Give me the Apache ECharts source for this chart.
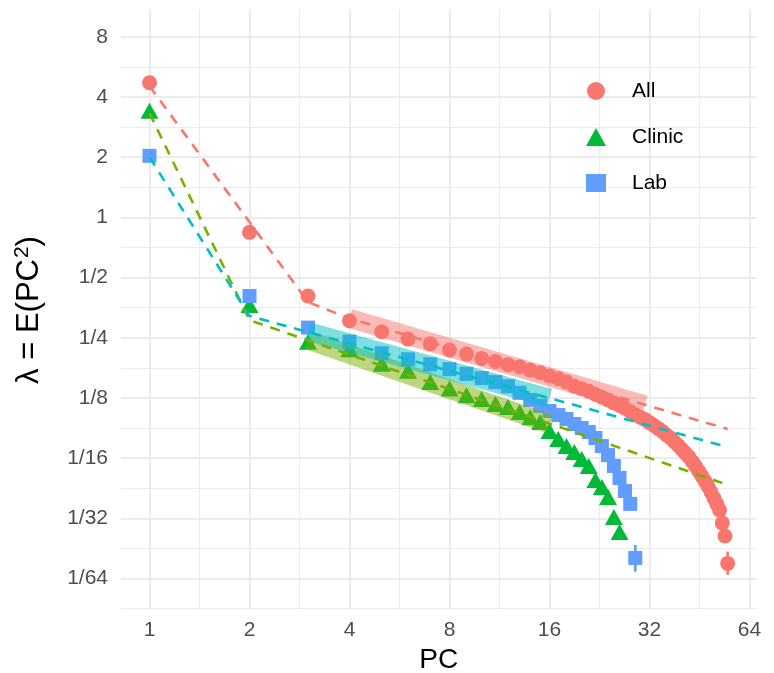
<!DOCTYPE html>
<html><head><meta charset="utf-8">
<script src="https://cdn.jsdelivr.net/npm/echarts@6/dist/echarts.min.js"></script>
<style>html,body{margin:0;padding:0;background:#fff}#c{width:774px;height:673px}</style>
</head><body><div id="c"></div>
<script>
// ---- data ----
const pcAll = [1,2,3,4,5,6,7,8,9,10,11,12,13,14,15,16,17,18,19,20,21,22,23,24,25,26,27,28,29,30,31,32,33,34,35,36,37,38,39,40,41,42,43,44,45,46,47,48,49,50,51,52,53,54,55];
const allVals = [4.71,0.841,0.404,0.304,0.268,0.246,0.233,0.217,0.207,0.197,0.190,0.183,0.179,0.172,0.167,0.161,0.156,0.150,0.143,0.139,0.135,0.130,0.126,0.122,0.118,0.1145,0.111,0.107,0.103,0.100,0.0975,0.0941,0.0910,0.0879,0.0849,0.0815,0.0788,0.0755,0.0725,0.0693,0.0663,0.0635,0.0601,0.0571,0.0539,0.0509,0.0480,0.0451,0.0423,0.0395,0.0369,0.0344,0.0296,0.0255,0.0186];
const pcClinic = [1,2,3,4,5,6,7,8,9,10,11,12,13,14,15,16,17,18,19,20,21,22,23,24,25,26];
const clinicVals = [3.41,0.364,0.239,0.219,0.185,0.171,0.150,0.1395,0.129,0.1235,0.1165,0.1125,0.1064,0.100,0.0947,0.0854,0.0778,0.0718,0.0670,0.0619,0.0571,0.0486,0.0448,0.0400,0.0317,0.0267];
const pcLab = [1,2,3,4,5,6,7,8,9,10,11,12,13,14,15,16,17,18,19,20,21,22,23,24,25,26,27,28,29];
const labVals = [2.03,0.404,0.281,0.239,0.209,0.195,0.184,0.174,0.165,0.157,0.150,0.143,0.1325,0.122,0.114,0.1075,0.1026,0.0981,0.0926,0.0884,0.0844,0.0788,0.0718,0.0647,0.0571,0.0497,0.0428,0.0369,0.0198];

// error bars visible beyond the markers
const errAllX = [55], errAllLo = [0.0163], errAllHi = [0.0213];
const errLabX = [29], errLabLo = [0.0169], errLabHi = [0.0230];

// dashed fitted lines
const fitAllX = [1,2,3,4,55], fitAllY = [4.53,0.947,0.377,0.312,0.0874];
const fitClinicX = [1,2,55], fitClinicY = [3.32,0.306,0.0459];
const fitLabX = [1,2,55], fitLabY = [2.0,0.321,0.0710];

// translucent bands
const bandAllX = [4,31], bandAllY = [0.312,0.1154];
const bandClinicX = [3,16], bandClinicY = [0.2435,0.0926];
const bandLabX = [3,16], bandLabY = [0.268,0.1246];

const seriesNames = ['All','Clinic','Lab'];
const xTicks = [1,2,4,8,16,32,64];
const yTicks = [1/64,1/32,1/16,1/8,1/4,1/2,1,2,4,8];
const xMinor = [1,2,4,8,16,32].map(v => v*Math.SQRT2);
const yMinor = [1/128,1/64,1/32,1/16,1/8,1/4,1/2,1,2,4].map(v => v*Math.SQRT2);

// ---- styling ----
const FONT = 'Liberation Sans, Arial, sans-serif';
const RED = '#F8766D', GREEN = '#00BA38', BLUE = '#619CFF';
const LRED = '#F8766D', LOLIVE = '#7CAE00', LCYAN = '#00BFC4';
const GRID = '#EBEBEB';
const xMin = Math.pow(2,-0.285), xMax = Math.pow(2,6.07);
const yMin = Math.pow(2,-6.523), yMax = Math.pow(2,3.444);

const zip = (xs, ys) => xs.map((x,i) => [x, ys[i]]);
const yFmt = v => v >= 1 ? String(Math.round(v)) : '1/' + Math.round(1/v);

function errSeries(xs, lo, hi, color) {
  return {
    type: 'custom', coordinateSystem: 'cartesian2d', silent: true, z: 2,
    data: xs.map((x,i) => [x, lo[i], hi[i]]),
    encode: {x: 0, y: [1,2]},
    renderItem: (params, api) => {
      const a = api.coord([api.value(0), api.value(1)]);
      const b = api.coord([api.value(0), api.value(2)]);
      return {type: 'line', shape: {x1: a[0], y1: a[1], x2: b[0], y2: b[1]},
              style: {stroke: color, lineWidth: 2.6}};
    }
  };
}
function bandSeries(xs, ys, color) {
  return {type: 'line', data: zip(xs, ys), showSymbol: false, symbol: 'none', silent: true, z: 3,
          lineStyle: {color: color, width: 19, opacity: 0.5, cap: 'butt'}};
}
function fitSeries(xs, ys, color) {
  return {type: 'line', data: zip(xs, ys), showSymbol: false, symbol: 'none', silent: true, z: 4,
          lineStyle: {color: color, width: 2.6, type: [10,8], cap: 'butt'}};
}

const chart = echarts.init(document.getElementById('c'), null, {renderer: 'canvas'});
chart.setOption({
  animation: false,
  backgroundColor: '#fff',
  textStyle: {fontFamily: FONT},
  grid: {left: 121, right: 17.5, top: 10, bottom: 63, outerBoundsMode: 'none', containLabel: false},
  legend: {
    orient: 'vertical', left: 581, top: 74, itemGap: 22, itemWidth: 20, itemHeight: 18,
    data: [{name: 'All', icon: 'circle'}, {name: 'Clinic', icon: 'triangle'}, {name: 'Lab', icon: 'rect'}],
    textStyle: {fontFamily: FONT, fontSize: 21, color: '#000', lineHeight: 24, padding: [0,0,0,21]},
    selectedMode: false
  },
  xAxis: [{
    type: 'log', logBase: 2, min: xMin, max: xMax, gridIndex: 0,
    name: 'PC', nameLocation: 'middle', nameGap: 35,
    nameTextStyle: {fontFamily: FONT, fontSize: 28, color: '#000'},
    axisLine: {show: false}, axisTick: {show: false, customValues: xTicks},
    axisLabel: {customValues: xTicks, fontFamily: FONT, fontSize: 21, color: '#4D4D4D', margin: 10,
                formatter: v => String(Math.round(v))},
    splitLine: {show: true, lineStyle: {color: GRID, width: 1.9}},
    minorSplitLine: {show: false}
  }, {
    type: 'log', logBase: 2, min: xMin, max: xMax, gridIndex: 0, position: 'top',
    axisLine: {show: false}, axisTick: {show: false, customValues: xMinor},
    axisLabel: {show: false},
    splitLine: {show: true, lineStyle: {color: GRID, width: 1}}
  }],
  yAxis: [{
    type: 'log', logBase: 2, min: yMin, max: yMax, gridIndex: 0,
    name: '{t|λ = E(PC}{s|2}{t|)}', nameLocation: 'middle', nameGap: 74, nameRotate: 90,
    nameTextStyle: {rich: {
      t: {fontFamily: FONT, fontSize: 31, color: '#000'},
      s: {fontFamily: FONT, fontSize: 21, color: '#000', padding: [0,0,14,1]}
    }},
    axisLine: {show: false}, axisTick: {show: false, customValues: yTicks},
    axisLabel: {customValues: yTicks, fontFamily: FONT, fontSize: 21, color: '#4D4D4D', margin: 13,
                formatter: yFmt},
    splitLine: {show: true, lineStyle: {color: GRID, width: 1.9}}
  }, {
    type: 'log', logBase: 2, min: yMin, max: yMax, gridIndex: 0, position: 'right',
    axisLine: {show: false}, axisTick: {show: false, customValues: yMinor},
    axisLabel: {show: false},
    splitLine: {show: true, lineStyle: {color: GRID, width: 1}}
  }],
  series: [
    {name: 'All', type: 'scatter', data: zip(pcAll, allVals), symbol: 'circle', symbolSize: 15,
     itemStyle: {color: RED, opacity: 1}, z: 2},
    {name: 'Clinic', type: 'scatter', data: zip(pcClinic, clinicVals), symbol: 'triangle', symbolSize: [18,16],
     itemStyle: {color: GREEN, opacity: 1}, z: 2},
    {name: 'Lab', type: 'scatter', data: zip(pcLab, labVals), symbol: 'rect', symbolSize: 14,
     itemStyle: {color: BLUE, opacity: 1}, z: 2},
    errSeries(errAllX, errAllLo, errAllHi, RED),
    errSeries(errLabX, errLabLo, errLabHi, BLUE),
    bandSeries(bandAllX, bandAllY, LRED),
    bandSeries(bandClinicX, bandClinicY, LOLIVE),
    bandSeries(bandLabX, bandLabY, LCYAN),
    fitSeries(fitAllX, fitAllY, LRED),
    fitSeries(fitClinicX, fitClinicY, LOLIVE),
    fitSeries(fitLabX, fitLabY, LCYAN)
  ]
});
</script>
</body></html>
